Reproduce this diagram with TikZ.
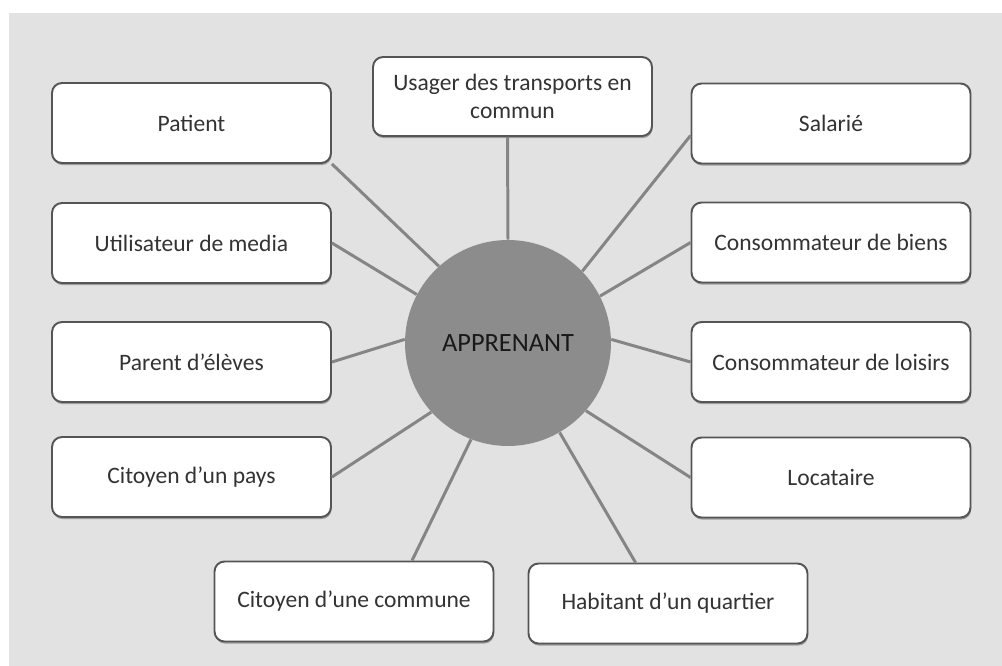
\documentclass[tikz,border=0pt]{standalone}
\usepackage{fontspec}
\setmainfont{Carlito}
\usepackage{tikz}
\usetikzlibrary{shadows}

\definecolor{fond}{HTML}{E2E2E2}
\definecolor{bord}{HTML}{555555}
\definecolor{rayon}{HTML}{858585}
\definecolor{disque}{HTML}{8C8C8C}
\definecolor{texte}{HTML}{333333}

\tikzset{
	rolebox/.style={draw=bord, line width=1.1pt, fill=white, rounded corners=0.2cm,
		minimum width=5.58cm, minimum height=1.6cm, inner sep=0pt, align=center,
		text=texte, font=\fontsize{13.4}{16}\selectfont,
		drop shadow={shadow xshift=0.4pt, shadow yshift=-1.2pt, fill=black, opacity=0.3}},
	centre/.style={circle, fill=disque, minimum size=4.12cm, inner sep=0pt,
		text=black!90, font=\fontsize{15}{18}\selectfont},
	lien/.style={draw=rayon, line width=1.7pt}
}

\begin{document}
\begin{tikzpicture}[x=0.02cm, y=-0.02cm]

		\useasboundingbox (0, 0) rectangle (1002, 666);
		\fill[fond] (9, 13) rectangle (1002, 666);

		\node[centre] (app) at (508, 343) {APPRENANT};

		\node[rolebox] (patient) at (191.5, 123) {Patient};
		\node[rolebox] (media) at (191.5, 243) {Utilisateur de media};
		\node[rolebox] (parent) at (191.5, 362) {Parent d’élèves};
		\node[rolebox] (pays) at (191.5, 477) {Citoyen d’un pays};
		\node[rolebox] (commune) at (354, 601.5) {Citoyen d’une commune};
		\node[rolebox, minimum height=1.58cm] (usager) at (512.5, 96.5) {Usager des transports en\\commun};
		\node[rolebox] (salarie) at (831, 123.5) {Salarié};
		\node[rolebox] (biens) at (831, 242.5) {Consommateur de biens};
		\node[rolebox] (loisirs) at (831, 362) {Consommateur de loisirs};
		\node[rolebox] (locataire) at (831, 477.5) {Locataire};
		\node[rolebox] (quartier) at (668, 603.5) {Habitant d’un quartier};

		\draw[lien] (patient.south east) -- (app.132);
		\draw[lien] (media.east) -- (app.152);
		\draw[lien] (parent.east) -- (app.178);
		\draw[lien] (pays.east) -- (app.222);
		\draw[lien] ([xshift=3.97cm]commune.north west) -- (app.249);
		\draw[lien] ([xshift=-0.1cm]usager.south) -- (app.90);
		\draw[lien] ([yshift=-0.24cm]salarie.west) -- (app.44);
		\draw[lien] (biens.west) -- (app.27);
		\draw[lien] (loisirs.west) -- (app.2);
		\draw[lien] (locataire.west) -- (app.-41);
		\draw[lien] ([xshift=2.16cm]quartier.north west) -- (app.-60);

	\end{tikzpicture}
\end{document}
